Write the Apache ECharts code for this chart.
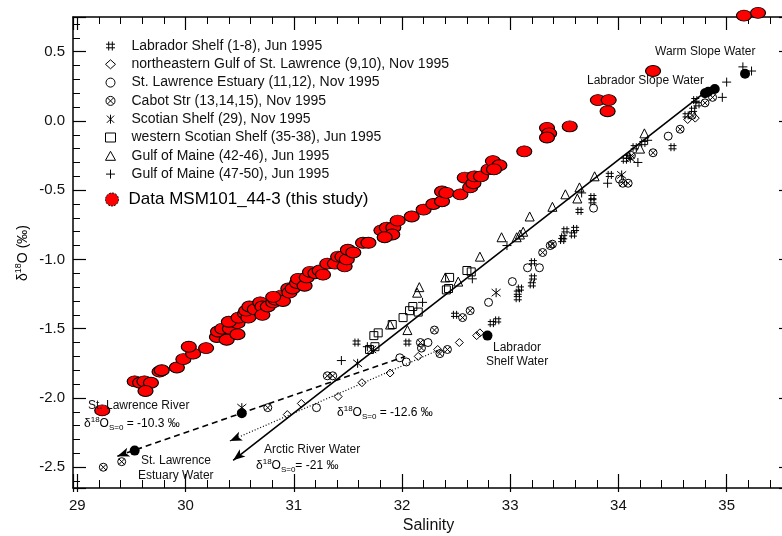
<!DOCTYPE html>
<html>
<head>
<meta charset="utf-8">
<script src="https://cdn.jsdelivr.net/npm/echarts@6/dist/echarts.min.js"></script>
<style>
html,body{margin:0;padding:0;background:#fff;}
#c{width:782px;height:536px;}
</style>
</head>
<body>
<div id="c"></div>
<script>
// ---------- DATA: [salinity, d18O (permil)] ----------
const msmData = [
  [29.23,-2.09],[29.53,-1.88],[29.58,-1.89],[29.62,-1.88],[29.68,-1.89],[29.63,-1.95],
  [29.76,-1.81],[29.78,-1.80],[29.92,-1.78],[29.98,-1.72],[30.07,-1.68],[30.03,-1.63],
  [30.19,-1.64],[30.29,-1.56],[30.30,-1.52],[30.34,-1.50],[30.38,-1.58],[30.41,-1.50],
  [30.48,-1.54],[30.48,-1.46],[30.40,-1.45],[30.49,-1.42],[30.55,-1.39],[30.58,-1.42],
  [30.56,-1.37],[30.59,-1.34],[30.64,-1.36],[30.69,-1.31],[30.71,-1.34],[30.71,-1.40],
  [30.76,-1.34],[30.81,-1.31],[30.83,-1.29],[30.89,-1.26],[30.90,-1.30],[30.95,-1.21],
  [30.96,-1.24],[30.81,-1.27],[30.99,-1.21],[31.03,-1.17],[31.04,-1.14],[31.10,-1.19],
  [31.12,-1.13],[31.15,-1.09],[31.20,-1.10],[31.24,-1.08],[31.27,-1.11],[31.31,-1.03],
  [31.38,-1.03],[31.41,-0.98],[31.45,-0.98],[31.47,-1.05],[31.49,-1.00],[31.50,-0.93],
  [31.55,-0.95],[31.64,-0.88],[31.69,-0.88],[31.81,-0.79],[31.86,-0.77],[31.92,-0.77],
  [31.91,-0.82],[31.84,-0.84],[31.96,-0.72],[32.09,-0.69],[32.20,-0.64],[32.29,-0.60],
  [32.37,-0.58],[32.37,-0.51],[32.41,-0.52],[32.54,-0.53],[32.63,-0.48],[32.58,-0.41],
  [32.66,-0.45],[32.67,-0.40],[32.73,-0.40],[32.80,-0.35],[32.84,-0.29],[32.90,-0.32],
  [32.85,-0.35],[33.13,-0.22],[33.34,-0.05],[33.36,-0.09],[33.34,-0.12],[33.55,-0.04],
  [33.81,0.15],[33.91,0.15],[33.90,0.07],[34.32,0.36],[35.16,0.76],[35.29,0.78]
];
const labradorShelf = [
  [31.58,-1.60],[32.05,-1.60],[32.49,-1.40],[32.83,-1.46],[32.88,-1.44],[33.07,-1.24],
  [33.07,-1.28],[33.21,-1.02],[33.21,-1.13],[33.20,-1.18],[33.09,-1.21],[33.51,-0.79],
  [33.49,-0.84],[33.60,-0.78],[33.58,-0.82],[33.48,-0.86],[33.64,-0.65],[33.76,-0.55],
  [33.76,-0.58],[33.92,-0.39],[34.06,-0.28],[34.09,-0.26],[34.15,-0.19],[34.23,-0.16],
  [34.50,-0.19],[34.71,0.15],[34.73,0.12],[34.69,0.08],[34.63,0.04]
];
const neGulfStLawrence = [
  [30.94,-2.12],[31.07,-2.04],[31.41,-1.99],[31.63,-1.89],[31.89,-1.82],[32.15,-1.70],
  [32.33,-1.65],[32.53,-1.60],[32.69,-1.55],[32.72,-1.53],[34.71,0.02],[34.64,0.01]
];
const stLawrenceEstuary = [
  [31.21,-2.07],[31.98,-1.71],[32.04,-1.74],[32.24,-1.60],[32.80,-1.31],[33.02,-1.16],
  [33.16,-1.06],[33.27,-1.06],[33.77,-0.63],[34.01,-0.42],[34.46,-0.11]
];
const cabotStrait = [
  [29.24,-2.50],[29.41,-2.46],[30.76,-2.07],[31.31,-1.84],[31.36,-1.84],[32.17,-1.60],
  [32.18,-1.64],[32.30,-1.51],[32.35,-1.68],[32.42,-1.65],[32.56,-1.42],[32.63,-1.37],
  [33.37,-0.90],[33.39,-0.89],[33.30,-0.95],[34.04,-0.45],[34.09,-0.45],[34.12,-0.25],
  [34.32,-0.23],[34.87,0.17],[34.80,0.13],[34.68,0.04],[34.57,-0.06]
];
const scotianShelf = [
  [30.52,-2.07],[31.59,-1.75],[31.72,-1.65],[32.87,-1.24],[34.03,-0.39],[34.11,-0.27]
];
const westernScotianShelf = [
  [32.60,-1.08],[32.64,-1.09],[32.44,-1.13],[32.41,-1.22],[32.43,-1.21],[32.10,-1.34],
  [32.07,-1.37],[32.15,-1.38],[32.01,-1.42],[31.91,-1.47],[31.78,-1.53],[31.74,-1.55],
  [31.75,-1.63],[31.70,-1.65]
];
const gulfOfMaine4246 = [
  [32.92,-0.84],[32.72,-0.98],[32.40,-1.13],[32.52,-1.16],[32.14,-1.24],[32.16,-1.20],
  [31.89,-1.47],[32.05,-1.51],[33.06,-0.84],[33.09,-0.82],[33.12,-0.80],[33.18,-0.69],
  [33.39,-0.62],[33.51,-0.53],[33.62,-0.56],[33.64,-0.48],[33.78,-0.40],[34.24,-0.09],
  [34.20,-0.20]
];
const gulfOfMaine4750 = [
  [32.97,-0.90],[32.65,-1.14],[32.19,-1.31],[31.68,-1.63],[31.44,-1.73],[33.66,-0.52],
  [33.90,-0.45],[34.18,-0.30],[34.27,-0.14],[35.15,0.39],[35.23,0.36],[35.00,0.28],
  [34.96,0.17]
];
const endMembers = [
  [29.53,-2.38],[30.52,-2.11],[32.79,-1.55],[34.80,0.20],[34.83,0.21],[34.89,0.23],[35.17,0.34]
];
// mixing lines: [arrow tip, far end]
const regressionLine = [[30.44,-2.45],[34.87,0.25]];
const stLawrenceLine = [[29.37,-2.42],[32.03,-1.70]];
const neGulfLine = [[30.41,-2.31],[32.35,-1.65]];
const xTickLabels = ['29','30','31','32','33','34','35'];
const yTickLabels = ['-2.5','-2.0','-1.5','-1.0','-0.5','0.0','0.5'];
const legendNames = [
  'Labrador Shelf (1-8), Jun 1995',
  'northeastern Gulf of St. Lawrence (9,10), Nov 1995',
  'St. Lawrence Estuary (11,12), Nov 1995',
  'Cabot Str (13,14,15), Nov 1995',
  'Scotian Shelf (29), Nov 1995',
  'western Scotian Shelf (35-38), Jun 1995',
  'Gulf of Maine (42-46), Jun 1995',
  'Gulf of Maine (47-50), Jun 1995'
];
const msmName = 'Data MSM101_44-3 (this study)';

// ---------- STYLE ----------
const FONT = '"Liberation Sans", Arial, Helvetica, sans-serif';
const HASH = 'path://M3,0L3,10M7,0L7,10M0,3L10,3M0,7L10,7';
const OTIMES = 'path://M10,5A5,5,0,1,1,0,5A5,5,0,1,1,10,5ZM1.6,1.6L8.4,8.4M8.4,1.6L1.6,8.4';
const ASTER = 'path://M5,0L5,10M1,1L9,9M9,1L1,9';
const PLUS = 'path://M5,0L5,10M0,5L10,5';
const CLEAR = 'rgba(255,255,255,0)';

const XMIN = 28.96, XMAX = 35.53, YMIN = -2.65, YMAX = 0.75;

function hollow(name, data, symbol, size) {
  return {
    type: 'scatter', name: name, data: data, symbol: symbol, symbolSize: size,
    itemStyle: { color: CLEAR, borderColor: '#000', borderWidth: 1, opacity: 1 },
    z: 3, silent: true
  };
}
const symbolSets = [
  [labradorShelf, HASH, 8],
  [neGulfStLawrence, 'diamond', 8],
  [stLawrenceEstuary, 'circle', 8],
  [cabotStrait, OTIMES, 8],
  [scotianShelf, ASTER, 9],
  [westernScotianShelf, 'rect', 8],
  [gulfOfMaine4246, 'triangle', 9],
  [gulfOfMaine4750, PLUS, 9]
];
const series = symbolSets.map((s, i) => hollow(legendNames[i], s[0], s[1], s[2]));

series.push({
  type: 'scatter', name: 'endmembers', data: endMembers, symbol: 'circle', symbolSize: 10,
  itemStyle: { color: '#000', opacity: 1 }, z: 4, silent: true
});
series.push({
  type: 'scatter', name: msmName, data: msmData, symbol: 'circle', symbolSize: [15, 11],
  itemStyle: { color: '#ff0000', borderColor: '#000', borderWidth: 1, opacity: 1 }, clip: false, z: 5, silent: true
});

function mline(pair, type, width) {
  return [
    { coord: pair[0], symbol: 'arrow', symbolSize: [7, 12], lineStyle: { type: type, width: width, color: '#000' } },
    { coord: pair[1], symbol: 'none' }
  ];
}
series.push({
  type: 'scatter', name: 'lines', data: [], silent: true, z: 2,
  markLine: {
    silent: true, animation: false, label: { show: false },
    lineStyle: { color: '#000' },
    data: [
      mline(regressionLine, 'solid', 1.6),
      mline(stLawrenceLine, [6, 4], 1.6),
      mline(neGulfLine, [1, 2], 1.2)
    ]
  }
});

function xLabel(v) {
  const s = String(Math.round(v));
  return Math.abs(v - Math.round(v)) < 1e-6 && xTickLabels.indexOf(s) >= 0 ? s : '';
}
function yLabel(v) {
  const s = (Math.abs(v) < 1e-9 ? 0 : v).toFixed(1);
  return Math.abs(v * 2 - Math.round(v * 2)) < 1e-6 && yTickLabels.indexOf(s) >= 0 ? s : '';
}

const axisLineStyle = { show: true, onZero: false, lineStyle: { color: '#000', width: 1.5 } };
const richDelta = {
  n: { fontSize: 12, fontFamily: FONT, color: '#111' },
  sup: { fontSize: 8, fontFamily: FONT, color: '#111', padding: [0, 0, 8, 0] },
  sub: { fontSize: 8, fontFamily: FONT, color: '#111', padding: [8, 0, 0, 0] }
};
function txt(x, y, text, extra) {
  return {
    type: 'text', x: x, y: y, silent: true, z: 10,
    style: Object.assign({ text: text, fill: '#111', font: '12px ' + FONT, verticalAlign: 'middle', align: 'left' }, extra || {})
  };
}
function deltaTxt(x, y, tail) {
  return {
    type: 'text', x: x, y: y, silent: true, z: 10,
    style: { text: '{n|δ}{sup|18}{n|O}{sub|S=0}{n|' + tail + '}', rich: richDelta, verticalAlign: 'middle', align: 'left' }
  };
}

const option = {
  animation: false,
  backgroundColor: '#fff',
  textStyle: { fontFamily: FONT },
  grid: { left: 73, top: 17, right: -2, bottom: 48, containLabel: false, outerBoundsMode: 'none' },
  legend: [
    {
      orient: 'vertical', left: 100, top: 34, itemWidth: 10, itemHeight: 9, itemGap: 4.3,
      selectedMode: false, data: legendNames,
      itemStyle: { borderWidth: 1, borderColor: '#000' },
      textStyle: { fontSize: 14, lineHeight: 14, color: '#111', fontFamily: FONT, padding: [0, 0, 0, 11] }
    },
    {
      orient: 'vertical', left: 100, top: 186, itemWidth: 13, itemHeight: 13,
      selectedMode: false, data: [{ name: msmName, icon: 'circle' }],
      itemStyle: { borderWidth: 1, borderColor: '#000', borderType: [2, 1] },
      textStyle: { fontSize: 17, lineHeight: 17, color: '#000', fontFamily: FONT, padding: [0, 0, 0, 5] }
    }
  ],
  xAxis: [
    {
      type: 'value', position: 'bottom', min: XMIN, max: XMAX, splitNumber: 6,
      name: 'Salinity', nameLocation: 'middle', nameGap: 29,
      nameTextStyle: { fontSize: 16, color: '#111', fontFamily: FONT },
      axisLine: axisLineStyle,
      axisTick: { inside: true, length: 14, lineStyle: { color: '#000', width: 1.2 } },
      minorTick: { show: true, splitNumber: 5, length: 8, lineStyle: { color: '#000', width: 1 } },
      axisLabel: { formatter: xLabel, fontSize: 15, color: '#111', margin: 10, showMinLabel: false, showMaxLabel: false },
      splitLine: { show: false }, minorSplitLine: { show: false }
    },
    {
      type: 'value', position: 'top', min: XMIN, max: XMAX, splitNumber: 6,
      axisLine: axisLineStyle,
      axisTick: { inside: true, length: 13, lineStyle: { color: '#000', width: 1.2 } },
      minorTick: { show: true, splitNumber: 5, length: 7, lineStyle: { color: '#000', width: 1 } },
      axisLabel: { show: false }, splitLine: { show: false }
    },
    {
      type: 'value', position: 'bottom', min: XMIN, max: XMAX, splitNumber: 6,
      axisLine: { show: false, onZero: false },
      axisTick: { inside: false, length: 4, lineStyle: { color: '#000', width: 1.2 } },
      axisLabel: { show: false }, splitLine: { show: false }
    }
  ],
  yAxis: [
    {
      type: 'value', position: 'left', min: YMIN, max: YMAX, splitNumber: 7,
      axisLine: axisLineStyle,
      axisTick: { inside: true, length: 13, lineStyle: { color: '#000', width: 1.2 } },
      minorTick: { show: true, splitNumber: 5, length: 7, lineStyle: { color: '#000', width: 1 } },
      axisLabel: { formatter: yLabel, fontSize: 15, color: '#111', margin: 8, showMinLabel: false, showMaxLabel: false },
      splitLine: { show: false }
    },
    {
      type: 'value', position: 'right', min: YMIN, max: YMAX, splitNumber: 7,
      axisLine: axisLineStyle,
      axisTick: { inside: true, length: 5, lineStyle: { color: '#000', width: 1.2 } },
      minorTick: { show: true, splitNumber: 5, length: 2, lineStyle: { color: '#000', width: 1 } },
      axisLabel: { show: false }, splitLine: { show: false }
    }
  ],
  graphic: [
    {
      type: 'text', x: 23, y: 253, rotation: Math.PI / 2, silent: true,
      style: {
        text: '{n|δ}{sup|18}{n|O }{n|(‰)}', align: 'center', verticalAlign: 'middle',
        rich: {
          n: { fontSize: 14, fontFamily: FONT, color: '#111' },
          sup: { fontSize: 9, fontFamily: FONT, color: '#111', padding: [0, 0, 9, 0] }
        }
      }
    },
    txt(88, 406, 'St. Lawrence River'),
    deltaTxt(84, 424, ' = -10.3 ‰'),
    txt(141, 461, 'St. Lawrence'),
    txt(138, 476, 'Estuary Water'),
    txt(264, 450, 'Arctic River Water'),
    deltaTxt(256, 466, '= -21 ‰'),
    deltaTxt(337, 413, ' = -12.6 ‰'),
    txt(517, 348, 'Labrador', { align: 'center' }),
    txt(517, 362, 'Shelf Water', { align: 'center' }),
    txt(655, 52, 'Warm Slope Water'),
    txt(587, 81, 'Labrador Slope Water')
  ],
  series: series
};

const chart = echarts.init(document.getElementById('c'), null, { renderer: 'canvas' });
chart.setOption(option);
</script>
</body>
</html>
